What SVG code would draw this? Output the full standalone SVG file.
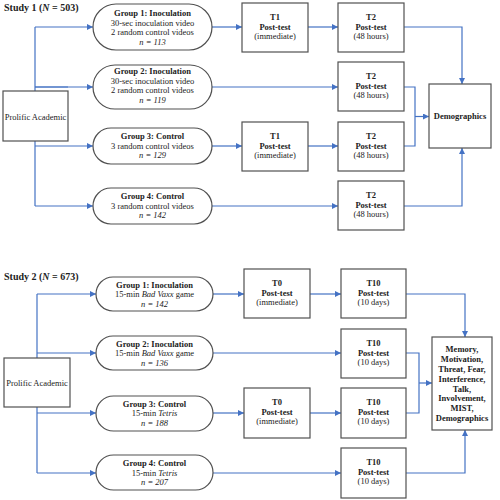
<svg xmlns="http://www.w3.org/2000/svg" width="500" height="500" viewBox="0 0 500 500">
<defs>
<marker id="ah" viewBox="0 0 10 10" refX="10" refY="5" markerWidth="6" markerHeight="6" markerUnits="userSpaceOnUse" orient="auto">
<path d="M0,0 L10,5 L0,10 z" fill="#4472C4"/>
</marker>
<style>
.bx{fill:#fff;stroke:#505050;stroke-width:1.2}
.ln{fill:none;stroke:#4472C4;stroke-width:1.2}
.ar{fill:none;stroke:#4472C4;stroke-width:1.2;marker-end:url(#ah)}
text{font-family:"Liberation Serif","Times New Roman",serif;font-size:8.5px;fill:#222;text-anchor:middle}
.b{font-weight:bold}
.t{font-weight:bold;font-size:10px;text-anchor:start}
.i{font-style:italic}
</style>
</defs>
<rect width="500" height="500" fill="#fff"/>

<text class="t" x="4" y="11">Study 1 (<tspan class="i">N</tspan> = 503)</text>
<text class="t" x="4" y="280">Study 2 (<tspan class="i">N</tspan> = 673)</text>

<g id="connectors">
<!-- Study 1 -->
<path class="ln" d="M35,116 V27 M35,116 V206 M35,87 H68"/>
<path class="ar" d="M35,27 H93"/>
<path class="ar" d="M35,87 H93"/>
<path class="ar" d="M35,146 H93"/>
<path class="ar" d="M35,206 H93"/>
<path class="ar" d="M212,27 H242"/>
<path class="ar" d="M308,27 H338"/>
<path class="ar" d="M404,27 H462 V84"/>
<path class="ar" d="M212,87 H338"/>
<path class="ln" d="M404,87 H415 V146 H404"/>
<path class="ar" d="M415,116.5 H429"/>
<path class="ar" d="M212,146 H242"/>
<path class="ar" d="M308,146 H338"/>
<path class="ar" d="M212,206 H338"/>
<path class="ar" d="M404,206 H462 V148"/>
<!-- Study 2 -->
<path class="ln" d="M37,294 V473"/>
<path class="ar" d="M37,294 H96"/>
<path class="ar" d="M37,353 H96"/>
<path class="ar" d="M37,413 H96"/>
<path class="ar" d="M37,473 H96"/>
<path class="ar" d="M213,294 H244"/>
<path class="ar" d="M310,294 H341"/>
<path class="ar" d="M406,294 H465 V337"/>
<path class="ar" d="M213,353 H341"/>
<path class="ln" d="M406,353 H419 V413 H406"/>
<path class="ar" d="M419,383 H432"/>
<path class="ar" d="M213,413 H244"/>
<path class="ar" d="M310,413 H341"/>
<path class="ar" d="M213,473 H341"/>
<path class="ar" d="M406,473 H465 V430"/>
</g>

<!-- Study 1 nodes -->
<g id="s1-prolific">
<rect class="bx" x="3" y="91" width="65" height="50"/>
<text x="35.5" y="119.5">Prolific Academic</text>
</g>
<g id="s1-g1">
<rect class="bx" x="93" y="4" width="119" height="46" rx="23"/>
<text class="b" x="152.5" y="15.5">Group 1: Inoculation</text>
<text x="152.5" y="25.5">30-sec inoculation video</text>
<text x="152.5" y="35">2 random control videos</text>
<text class="i" x="152.5" y="45">n = 113</text>
</g>
<g id="s1-g2">
<rect class="bx" x="93" y="65" width="119" height="44" rx="22"/>
<text class="b" x="152.5" y="74">Group 2: Inoculation</text>
<text x="152.5" y="84">30-sec inoculation video</text>
<text x="152.5" y="93">2 random control videos</text>
<text class="i" x="152.5" y="102.5">n = 119</text>
</g>
<g id="s1-g3">
<rect class="bx" x="93" y="128" width="119" height="36" rx="18"/>
<text class="b" x="152.5" y="139">Group 3: Control</text>
<text x="152.5" y="148.5">3 random control videos</text>
<text class="i" x="152.5" y="158">n = <tspan>129</tspan></text>
</g>
<g id="s1-g4">
<rect class="bx" x="93" y="188" width="119" height="36" rx="18"/>
<text class="b" x="152.5" y="199">Group 4: Control</text>
<text x="152.5" y="208.5">3 random control videos</text>
<text class="i" x="152.5" y="218">n = 142</text>
</g>
<g id="s1-t1a">
<rect class="bx" x="242" y="3" width="66" height="49"/>
<text class="b" x="275" y="20">T1</text>
<text class="b" x="275" y="30">Post-test</text>
<text x="275" y="39">(immediate)</text>
</g>
<g id="s1-t2a">
<rect class="bx" x="338" y="3" width="66" height="49"/>
<text class="b" x="371" y="20">T2</text>
<text class="b" x="371" y="30">Post-test</text>
<text x="371" y="39">(48 hours)</text>
</g>
<g id="s1-t2b">
<rect class="bx" x="338" y="62" width="66" height="49"/>
<text class="b" x="371" y="79">T2</text>
<text class="b" x="371" y="89">Post-test</text>
<text x="371" y="98">(48 hours)</text>
</g>
<g id="s1-t1c">
<rect class="bx" x="242" y="122" width="66" height="49"/>
<text class="b" x="275" y="139">T1</text>
<text class="b" x="275" y="149">Post-test</text>
<text x="275" y="158">(immediate)</text>
</g>
<g id="s1-t2c">
<rect class="bx" x="338" y="122" width="66" height="49"/>
<text class="b" x="371" y="139">T2</text>
<text class="b" x="371" y="149">Post-test</text>
<text x="371" y="158">(48 hours)</text>
</g>
<g id="s1-t2d">
<rect class="bx" x="338" y="181" width="66" height="49"/>
<text class="b" x="371" y="198">T2</text>
<text class="b" x="371" y="208">Post-test</text>
<text x="371" y="217">(48 hours)</text>
</g>
<g id="s1-demo">
<rect class="bx" x="429" y="84" width="62" height="64"/>
<text class="b" x="460" y="119">Demographics</text>
</g>

<!-- Study 2 nodes -->
<g id="s2-prolific">
<rect class="bx" x="4" y="358" width="66" height="49"/>
<text x="37" y="386">Prolific Academic</text>
</g>
<g id="s2-g1">
<rect class="bx" x="96" y="277" width="117" height="34" rx="17"/>
<text class="b" x="154.5" y="287.5">Group 1: Inoculation</text>
<text x="154.5" y="297">15-min <tspan class="i">Bad Vaxx</tspan> game</text>
<text class="i" x="154.5" y="306.5">n = 142</text>
</g>
<g id="s2-g2">
<rect class="bx" x="96" y="336" width="117" height="34" rx="17"/>
<text class="b" x="154.5" y="346.5">Group 2: Inoculation</text>
<text x="154.5" y="356">15-min <tspan class="i">Bad Vaxx</tspan> game</text>
<text class="i" x="154.5" y="365.5">n = 136</text>
</g>
<g id="s2-g3">
<rect class="bx" x="96" y="396" width="117" height="35" rx="17.5"/>
<text class="b" x="154.5" y="406.5">Group 3: Control</text>
<text x="154.5" y="416">15-min <tspan class="i">Tetris</tspan></text>
<text class="i" x="154.5" y="425.5">n = 188</text>
</g>
<g id="s2-g4">
<rect class="bx" x="96" y="455" width="117" height="35" rx="17.5"/>
<text class="b" x="154.5" y="466">Group 4: Control</text>
<text x="154.5" y="475.5">15-min <tspan class="i">Tetris</tspan></text>
<text class="i" x="154.5" y="485">n = 207</text>
</g>
<g id="s2-t0a">
<rect class="bx" x="244" y="269" width="66" height="49"/>
<text class="b" x="277" y="286">T0</text>
<text class="b" x="277" y="296">Post-test</text>
<text x="277" y="305">(immediate)</text>
</g>
<g id="s2-t10a">
<rect class="bx" x="341" y="269" width="65" height="49"/>
<text class="b" x="373.5" y="286">T10</text>
<text class="b" x="373.5" y="296">Post-test</text>
<text x="373.5" y="305">(10 days)</text>
</g>
<g id="s2-t10b">
<rect class="bx" x="341" y="329" width="65" height="49"/>
<text class="b" x="373.5" y="346">T10</text>
<text class="b" x="373.5" y="356">Post-test</text>
<text x="373.5" y="365">(10 days)</text>
</g>
<g id="s2-t0c">
<rect class="bx" x="244" y="388" width="66" height="50"/>
<text class="b" x="277" y="405">T0</text>
<text class="b" x="277" y="415">Post-test</text>
<text x="277" y="424">(immediate)</text>
</g>
<g id="s2-t10c">
<rect class="bx" x="341" y="388" width="65" height="50"/>
<text class="b" x="373.5" y="405">T10</text>
<text class="b" x="373.5" y="415">Post-test</text>
<text x="373.5" y="424">(10 days)</text>
</g>
<g id="s2-t10d">
<rect class="bx" x="341" y="448" width="65" height="50"/>
<text class="b" x="373.5" y="465">T10</text>
<text class="b" x="373.5" y="475">Post-test</text>
<text x="373.5" y="484">(10 days)</text>
</g>
<g id="s2-outcomes">
<rect class="bx" x="432" y="337" width="60" height="93"/>
<text class="b" x="462" y="352">Memory,</text>
<text class="b" x="462" y="362">Motivation,</text>
<text class="b" x="462" y="372">Threat, Fear,</text>
<text class="b" x="462" y="382">Interference,</text>
<text class="b" x="462" y="391.5">Talk,</text>
<text class="b" x="462" y="401">Involvement,</text>
<text class="b" x="462" y="411">MIST,</text>
<text class="b" x="462" y="421">Demographics</text>
</g>
</svg>
